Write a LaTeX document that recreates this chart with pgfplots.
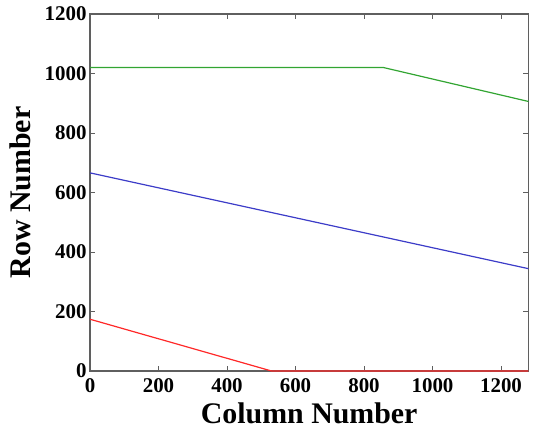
\documentclass[border=0pt]{standalone}
\usepackage{pgfplots}
\pgfplotsset{compat=1.18}
\usepackage{fontspec}
\setmainfont{Liberation Serif}
\definecolor{lgreen}{RGB}{50,165,50}
\definecolor{lblue}{RGB}{60,60,200}
\definecolor{lred}{RGB}{255,40,40}
\definecolor{axgray}{RGB}{95,95,95}
\begin{document}
\begin{tikzpicture}
\begin{axis}[
  scale only axis,
  width=438.4bp, height=357bp,
  xmin=0, xmax=1280, ymin=0, ymax=1200,
  xtick={0,200,...,1200}, ytick={0,200,...,1200},
  tick align=inside,
  major tick length=5bp,
  set layers,
  every axis plot/.append style={on layer=axis foreground},
  axis line style={draw=axgray, line width=1.1bp},
  every tick/.style={draw=axgray, line width=0.9bp},
  /pgf/number format/assume math mode=true,
  /pgf/number format/1000 sep={},
  tick label style={font=\fontsize{21}{25}\selectfont\bfseries},
  xticklabel style={yshift=-4bp},
  label style={font=\fontsize{30}{34}\selectfont\bfseries},
  xlabel={Column Number},
  ylabel={Row Number},
  xlabel style={yshift=-5bp, inner sep=2bp},
  ylabel style={yshift=7bp},
  clip=false,
]
\addplot[lgreen, line width=1.2bp, no markers] coordinates {(0,1020) (857,1020) (1280,906)};
\addplot[lblue, line width=1.2bp, no markers] coordinates {(0,666) (1280,344)};
\addplot[lred, line width=1.2bp, no markers] coordinates {(0,174) (530,0) (1280,0)};
\end{axis}
\pgfresetboundingbox
\path ([shift={(-90bp,-61bp)}]current axis.south west) rectangle ([shift={(6.6bp,14bp)}]current axis.north east);
\end{tikzpicture}
\end{document}
